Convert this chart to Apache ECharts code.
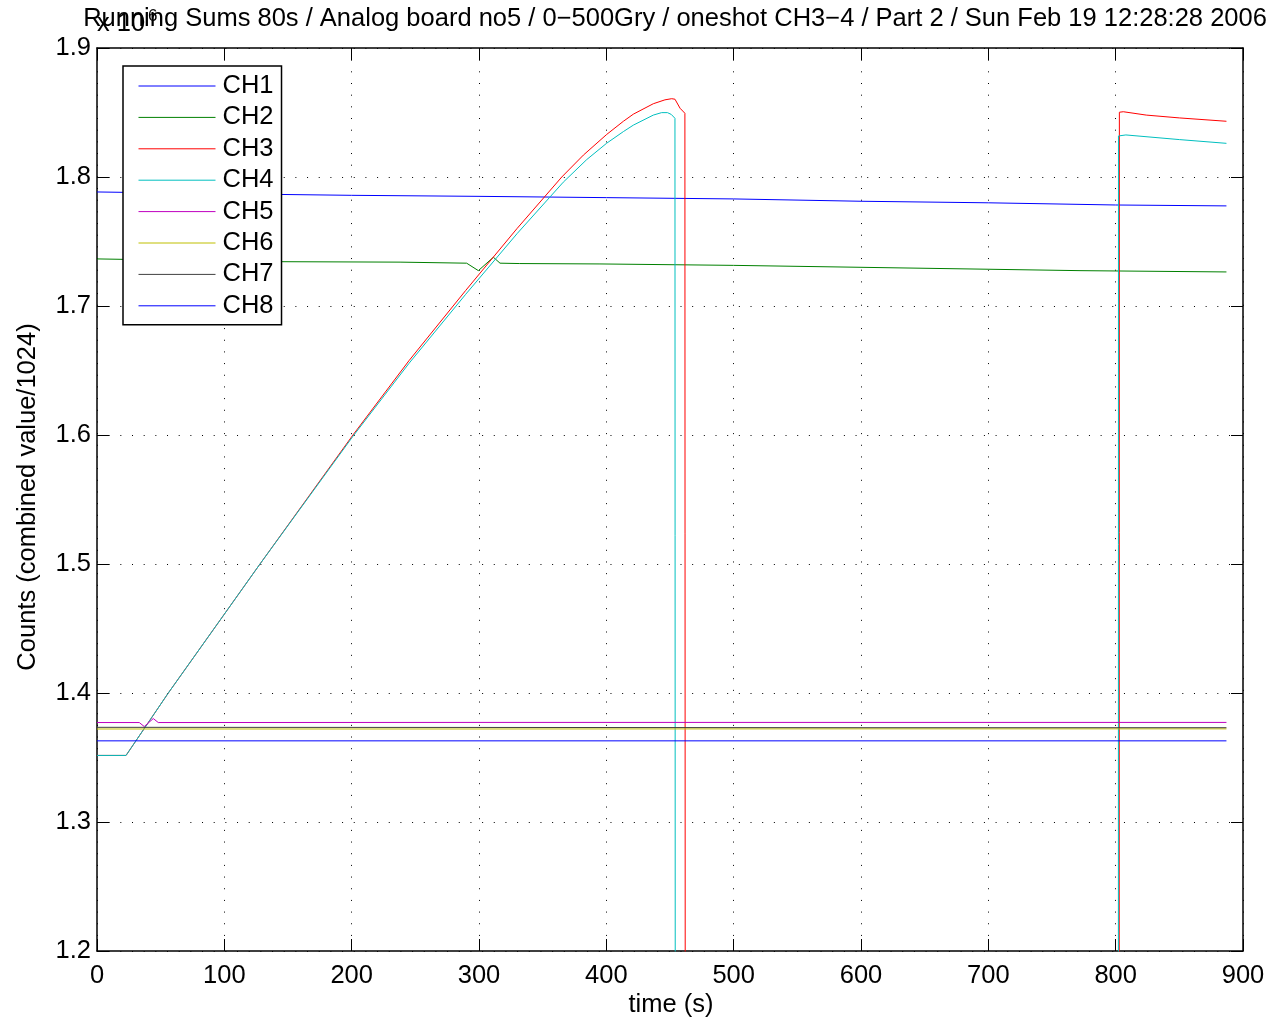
<!DOCTYPE html>
<html>
<head>
<meta charset="utf-8">
<title>Running Sums 80s</title>
<script src="https://cdn.jsdelivr.net/npm/echarts@6/dist/echarts.min.js"></script>
<style>
  html, body { margin: 0; padding: 0; background: #fff; }
  #chart { width: 1276px; height: 1023px; }
</style>
</head>
<body>
<div id="chart"></div>
<script>
// Channel names and colours
const channelNames = ['CH1', 'CH2', 'CH3', 'CH4', 'CH5', 'CH6', 'CH7', 'CH8'];
const channelColors = ['#0000ff', '#008000', '#ff0000', '#00bfbf', '#bf00bf', '#bfbf00', '#404040', '#0000ff'];

// Axis ticks
const xTicks = [0, 100, 200, 300, 400, 500, 600, 700, 800, 900];
const yTicks = [1.2e6, 1.3e6, 1.4e6, 1.5e6, 1.6e6, 1.7e6, 1.8e6, 1.9e6];

// Time stamps (s) and running sums (counts, ×1e6) per channel
const ch1Time   = [0, 100, 200, 300, 400, 500, 600, 700, 800, 887];
const ch1Counts = [1.7884, 1.7870, 1.7858, 1.7850, 1.7840, 1.7830, 1.7812, 1.7800, 1.7783, 1.7776];

const ch2Time   = [0, 128, 238, 290.3, 299.5, 311.3, 316.5, 332, 395, 500, 600, 700, 772, 887];
const ch2Counts = [1.7365, 1.7344, 1.7340, 1.7332, 1.7274, 1.7378, 1.7332, 1.7329, 1.7326, 1.7315, 1.7300, 1.7285, 1.7274, 1.7264];

const ch3Time   = [0, 22.8, 56, 128, 201, 245, 289.5, 330, 365, 382, 400.3, 413.4, 421.2, 436.9, 446, 451.3, 453.9, 457.9, 461.7, 462.4, 802.6, 802.9, 806, 824, 850, 887];
const ch3Counts = [1.3516, 1.3516, 1.4000, 1.5000, 1.6000, 1.6576, 1.7120, 1.7602, 1.8000, 1.8170, 1.8330, 1.8432, 1.8487, 1.8568, 1.8598, 1.8607, 1.8603, 1.8533, 1.8494, 0, 0, 1.8502, 1.8506, 1.8480, 1.8458, 1.8432];

const ch4Time   = [0, 22.8, 56, 128, 201, 245, 289.5, 330, 366.2, 384.6, 400.3, 413.4, 421.2, 436.9, 443.4, 448, 451, 453.9, 454.5, 802.0, 802.2, 808, 850, 887];
const ch4Counts = [1.3516, 1.3516, 1.4000, 1.5000, 1.5990, 1.6555, 1.7090, 1.7562, 1.7960, 1.8135, 1.8262, 1.8352, 1.8402, 1.8480, 1.8499, 1.8499, 1.8485, 1.8455, 0, 0, 1.8318, 1.8326, 1.8290, 1.8261];

const ch5Time   = [0, 33.2, 37.1, 44.2, 48.1, 300, 600, 887];
const ch5Counts = [1.3771, 1.3771, 1.3740, 1.3802, 1.3771, 1.3772, 1.3772, 1.3772];

const ch6Time   = [0, 300, 600, 887];
const ch6Counts = [1.3721, 1.3721, 1.3722, 1.3722];

const ch7Time   = [0, 300, 600, 887];
const ch7Counts = [1.3734, 1.3733, 1.3731, 1.3731];

const ch8Time   = [0, 300, 600, 887];
const ch8Counts = [1.3629, 1.3629, 1.3629, 1.3629];

const channelTimes  = [ch1Time, ch2Time, ch3Time, ch4Time, ch5Time, ch6Time, ch7Time, ch8Time];
const channelCounts = [ch1Counts, ch2Counts, ch3Counts, ch4Counts, ch5Counts, ch6Counts, ch7Counts, ch8Counts];

const FONT = '"Liberation Sans", Arial, Helvetica, sans-serif';
const FS = 25.5;
const titleText = 'Running Sums 80s / Analog board no5 / 0\u2212500Gry / oneshot CH3\u22124 / Part 2 / Sun Feb 19 12:28:28 2006';

const series = channelNames.map((name, i) => ({
  name: name,
  type: 'line',
  xAxisIndex: 0,
  yAxisIndex: 0,
  symbol: 'none',
  showSymbol: false,
  clip: true,
  silent: true,
  animation: false,
  color: channelColors[i],
  lineStyle: { width: 1, color: channelColors[i] },
  emphasis: { disabled: true },
  data: channelTimes[i].map((t, k) => [t, channelCounts[i][k] * 1e6])
}));

const xMin = xTicks[0], xMax = xTicks[xTicks.length - 1], xStep = xTicks[1] - xTicks[0];
const yMin = yTicks[0], yMax = yTicks[yTicks.length - 1], yStep = yTicks[1] - yTicks[0];

const tickStyle = { show: true, inside: true, length: 12, lineStyle: { color: '#000', width: 1 } };
const axisLineStyle = { show: true, onZero: false, lineStyle: { color: '#000', width: 1.5 } };
const gridDots = { show: true, lineStyle: { color: '#000', width: 1, type: [1, 10.67] } };

const chart = echarts.init(document.getElementById('chart'), null, { renderer: 'canvas' });
chart.setOption({
  animation: false,
  backgroundColor: '#fff',
  grid: { left: 97, right: 33, top: 48, bottom: 72, containLabel: false },
  xAxis: [
    {
      type: 'value', position: 'bottom', min: xMin, max: xMax, interval: xStep,
      axisLine: axisLineStyle, axisTick: tickStyle, splitLine: gridDots,
      axisLabel: { color: '#000', fontSize: FS, fontFamily: FONT, margin: 12 }
    },
    {
      type: 'value', position: 'top', min: xMin, max: xMax, interval: xStep,
      axisLine: axisLineStyle, axisTick: tickStyle, splitLine: { show: false },
      axisLabel: { show: false }
    }
  ],
  yAxis: [
    {
      type: 'value', position: 'left', min: yMin, max: yMax, interval: yStep,
      axisLine: axisLineStyle, axisTick: tickStyle, splitLine: gridDots,
      axisLabel: {
        color: '#000', fontSize: FS, fontFamily: FONT, margin: 6,
        formatter: v => (v / 1e6).toFixed(1)
      }
    },
    {
      type: 'value', position: 'right', min: yMin, max: yMax, interval: yStep,
      axisLine: axisLineStyle, axisTick: tickStyle, splitLine: { show: false },
      axisLabel: { show: false }
    }
  ],
  legend: {
    orient: 'vertical',
    left: 123, top: 66,
    padding: [7, 8, 6, 15],
    itemGap: 5.4,
    itemWidth: 77,
    itemHeight: 14,
    itemStyle: { opacity: 0 },
    lineStyle: { width: 1 },
    borderColor: '#000',
    borderWidth: 1.5,
    borderRadius: 0,
    backgroundColor: '#fff',
    selectedMode: false,
    textStyle: { color: '#000', fontSize: FS, lineHeight: 24, fontFamily: FONT, padding: [0, 0, 0, 2] },
    data: channelNames
  },
  graphic: [
    {
      type: 'text', x: 675, y: 6, z: 10,
      style: { text: titleText, fill: '#000', font: FS + 'px ' + FONT, textAlign: 'center', textVerticalAlign: 'top' }
    },
    {
      type: 'text', x: 97, y: 37, z: 9,
      style: { text: 'x 10', fill: '#000', font: FS + 'px ' + FONT, textAlign: 'left', textVerticalAlign: 'bottom' }
    },
    {
      type: 'text', x: 148, y: 25, z: 9,
      style: { text: '6', fill: '#000', font: '17px ' + FONT, textAlign: 'left', textVerticalAlign: 'bottom' }
    },
    {
      type: 'text', x: 671, y: 1005, z: 10,
      style: { text: 'time (s)', fill: '#000', font: FS + 'px ' + FONT, textAlign: 'center', textVerticalAlign: 'middle' }
    },
    {
      type: 'text', x: 28, y: 497, rotation: Math.PI / 2, z: 10,
      style: { text: 'Counts (combined value/1024)', fill: '#000', font: FS + 'px ' + FONT, textAlign: 'center', textVerticalAlign: 'middle' }
    }
  ],
  series: series
});
</script>
</body>
</html>
